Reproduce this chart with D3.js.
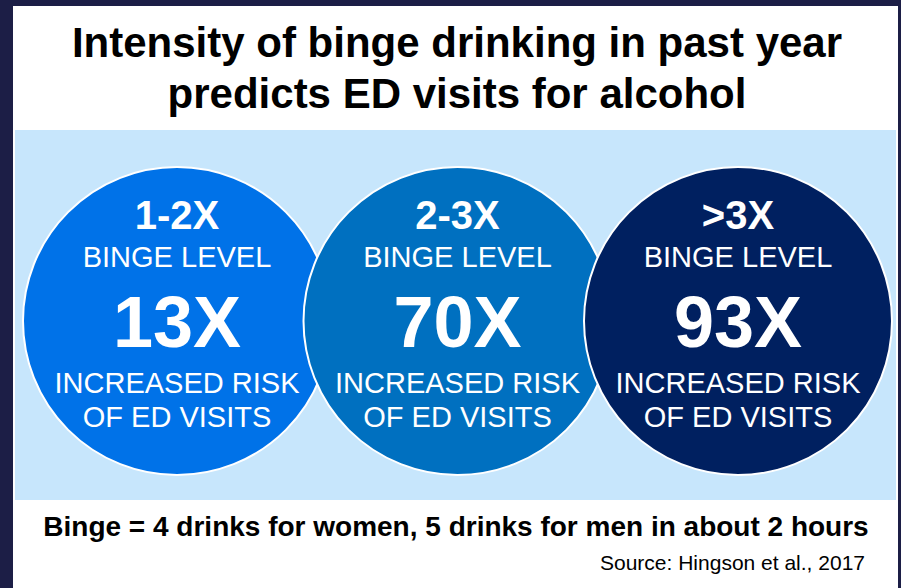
<!DOCTYPE html>
<html>
<head>
<meta charset="utf-8">
<script src="https://cdn.jsdelivr.net/npm/d3@7"></script>
<style>
  html, body { margin: 0; padding: 0; background: #1c1e46; }
  svg { display: block; }
  text { font-family: "Liberation Sans", Arial, sans-serif; }
</style>
</head>
<body>
<script>
// ---- data ----
const titleLines = ["Intensity of binge drinking in past year", "predicts ED visits for alcohol"];
const bingeLevels = ["1-2X", "2-3X", ">3X"];
const riskMultipliers = [13, 70, 93];
const circleColors = ["#0072e8", "#0070c0", "#002060"];
const levelLabel = "BINGE LEVEL";
const riskLabelLines = ["INCREASED RISK", "OF ED VISITS"];
const footnote = "Binge = 4 drinks for women, 5 drinks for men in about 2 hours";
const source = "Source: Hingson et al., 2017";

const W = 901, H = 588;
const svg = d3.select("body").append("svg").attr("width", W).attr("height", H);

// background frame
svg.append("rect").attr("x", 0).attr("y", 0).attr("width", W).attr("height", H).attr("fill", "#1c1e46");
svg.append("rect").attr("x", 13).attr("y", 6).attr("width", 885).attr("height", H - 6).attr("fill", "#ffffff");
// light blue band
svg.append("rect").attr("x", 15).attr("y", 130).attr("width", 881).attr("height", 370).attr("fill", "#c7e6fc");

// title
svg.selectAll("text.title").data(titleLines).enter().append("text")
  .attr("class", "title")
  .attr("x", 457).attr("y", (d, i) => 57 + i * 51)
  .attr("text-anchor", "middle")
  .attr("font-size", 42).attr("font-weight", "bold").attr("fill", "#000")
  .text(d => d);

// scales
const x = d3.scalePoint().domain(bingeLevels).range([177, 738]);
const color = d3.scaleOrdinal().domain(bingeLevels).range(circleColors);
const r = 154, cy = 321;

const data = bingeLevels.map((lv, i) => ({ level: lv, risk: riskMultipliers[i] }));

const g = svg.selectAll("g.bubble").data(data).enter().append("g").attr("class", "bubble")
  .attr("transform", d => `translate(${x(d.level)},0)`);

g.append("circle")
  .attr("cx", 0).attr("cy", cy).attr("r", r)
  .attr("fill", d => color(d.level))
  .attr("stroke", "#ffffff").attr("stroke-width", 2);

g.append("text").attr("x", 0).attr("y", 229).attr("text-anchor", "middle")
  .attr("font-size", 40).attr("font-weight", "bold").attr("fill", "#fff")
  .text(d => d.level);

g.append("text").attr("x", 0).attr("y", 267).attr("text-anchor", "middle")
  .attr("font-size", 29).attr("fill", "#fff")
  .text(levelLabel);

g.append("text").attr("x", 0).attr("y", 347).attr("text-anchor", "middle")
  .attr("font-size", 72).attr("font-weight", "bold").attr("fill", "#fff")
  .text(d => d.risk + "X");

riskLabelLines.forEach((line, i) => {
  g.append("text").attr("x", 0).attr("y", 393 + i * 34).attr("text-anchor", "middle")
    .attr("font-size", 29).attr("fill", "#fff")
    .text(line);
});

// footnote & source
svg.append("text").attr("x", 456).attr("y", 536).attr("text-anchor", "middle")
  .attr("font-size", 28).attr("font-weight", "bold").attr("fill", "#000")
  .text(footnote);

svg.append("text").attr("x", 865).attr("y", 570).attr("text-anchor", "end")
  .attr("font-size", 21).attr("fill", "#000")
  .text(source);
</script>
</body>
</html>
